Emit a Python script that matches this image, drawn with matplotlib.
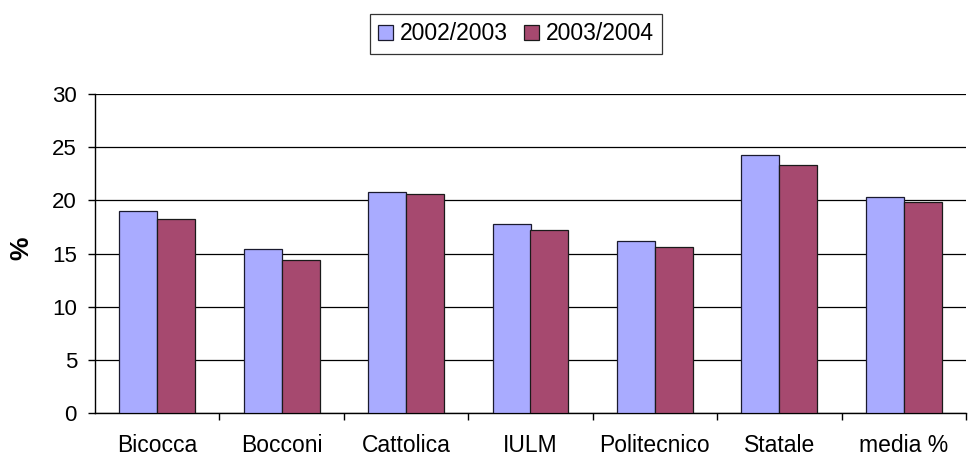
import matplotlib
matplotlib.use("Agg")
import matplotlib.pyplot as plt
import numpy as np

plt.rcParams["font.family"] = ["Liberation Sans", "DejaVu Sans"]

categories = ["Bicocca", "Bocconi", "Cattolica", "IULM", "Politecnico", "Statale", "media %"]
series_names = ["2002/2003", "2003/2004"]
values_0203 = [19.0, 15.4, 20.8, 17.8, 16.2, 24.3, 20.35]
values_0304 = [18.2, 14.4, 20.6, 17.25, 15.6, 23.35, 19.8]

BLUE = "#A9ABFF"
PLUM = "#A6496F"

fig = plt.figure(figsize=(9.7, 4.55), dpi=100)
ax = fig.add_axes([95 / 970, 1 - 413 / 455, 871 / 970, 319 / 455])

x = np.arange(len(categories))
w = 0.305
ax.bar(x - w / 2, values_0203, w, color=BLUE, edgecolor="#1a1a2e", linewidth=0.9,
       label=series_names[0], zorder=3)
ax.bar(x + w / 2, values_0304, w, color=PLUM, edgecolor="#1a1a1a", linewidth=0.9,
       label=series_names[1], zorder=3)

ax.set_xlim(-0.5, len(categories) - 0.5)
ax.set_ylim(0, 30)
ax.set_yticks(range(0, 31, 5))
ax.yaxis.grid(True, color="black", linewidth=0.9, zorder=0)
ax.set_axisbelow(True)

ax.set_xticks(x)
ax.set_xticklabels(categories, fontsize=16.5)
ax.tick_params(axis="x", length=0, pad=15)
ax.set_xticks(np.arange(0.5, len(categories), 1), minor=True)
ax.tick_params(axis="x", which="minor", length=5, width=1, color="black")
ax.tick_params(axis="y", labelsize=16, length=5, width=1, direction="out", pad=8)

for s in ["top", "right"]:
    ax.spines[s].set_visible(False)
ax.spines["left"].set_linewidth(1)
ax.spines["bottom"].set_linewidth(1)

fig.text(21 / 970, 1 - 248 / 455, "%", rotation=90, fontsize=19, fontweight="bold",
         ha="center", va="center")

leg = fig.legend(loc="center", bbox_to_anchor=(516 / 970, 1 - 34 / 455), ncol=2,
                 fontsize=16.5, frameon=True, fancybox=False, edgecolor="black",
                 handlelength=0.65, handleheight=0.65, handletextpad=0.3,
                 columnspacing=0.7, borderpad=0.35)
leg.get_frame().set_linewidth(0.9)

fig.savefig("out.png", dpi=100)
